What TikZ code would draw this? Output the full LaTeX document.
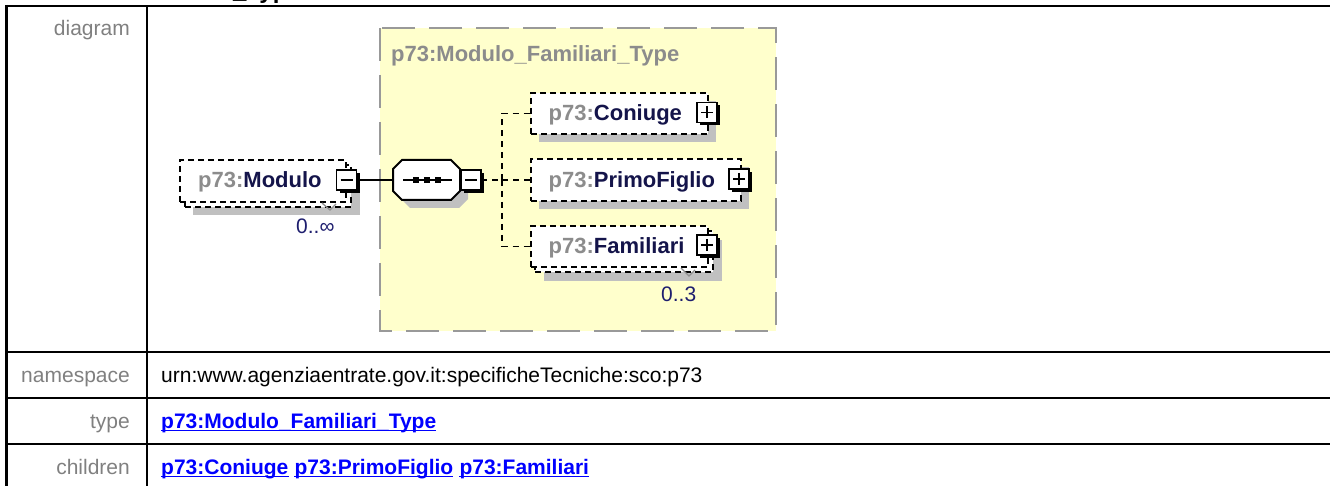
\documentclass[tikz,border=0pt]{standalone}
\usepackage{fontspec}
\setmainfont{Liberation Sans}
\usetikzlibrary{calc}
\definecolor{lbl}{HTML}{808080}
\definecolor{pfx}{HTML}{8C8C8C}
\definecolor{nm}{HTML}{14144A}
\definecolor{card}{HTML}{1E1E6E}
\definecolor{typefill}{HTML}{FFFFCC}
\definecolor{typeline}{HTML}{999999}
\definecolor{shadowc}{HTML}{C0C0C0}
\definecolor{notchc}{HTML}{909090}
\definecolor{linkc}{HTML}{0000FF}
\tikzset{
  tbl/.style={line width=2.5pt, black},
  lbltxt/.style={anchor=base east, inner sep=0, text=lbl, font=\fontsize{21}{25}\selectfont},
  valtxt/.style={anchor=base west, inner sep=0, text=black, font=\fontsize{21}{25}\selectfont},
  linktxt/.style={anchor=base west, inner sep=0, text=linkc, font=\fontsize{21}{25}\selectfont\bfseries},
  eltxt/.style={anchor=base west, inner sep=0, text=nm, font=\fontsize{22}{26}\selectfont\bfseries},
  cardtxt/.style={anchor=base west, inner sep=0, text=card, font=\fontsize{21}{25}\selectfont},
  elbox/.style={draw=black, fill=white, line width=1.8pt, dash pattern=on 6pt off 4pt, inner sep=0, outer sep=0, anchor=north west},
  shadowbox/.style={fill=shadowc},
  conn/.style={line width=1.8pt},
  dconn/.style={line width=1.8pt, dash pattern=on 6pt off 5pt},
  typebox/.style={fill=typefill, draw=typeline, line width=2.5pt, dash pattern=on 33pt off 14pt},
  notch/.style={draw=notchc, line width=1.3pt},
}
\newcommand\pmbox[4]{%
  \fill[black] (#2-10+3,#3-10+3) rectangle (#2+10+3,#3+10+3);
  \node[draw=black, fill=white, line width=1.2pt, minimum size=20pt, inner sep=0, outer sep=0] (#1) at (#2,#3) {};
  \draw[line width=1.6pt] (#2-6,#3) -- (#2+6,#3);
  \ifnum#4=1 \draw[line width=1.6pt] (#2,#3-6) -- (#2,#3+6);\fi
}
\newcommand\linknode[3]{%
  \node[linktxt] (#1) at #2 {#3};
  \draw[linkc, line width=1.6pt] ([yshift=-2.6pt]#1.base west) -- ([yshift=-2.6pt]#1.base east);
}
\begin{document}
\begin{tikzpicture}[x=1pt,y=-1pt]
\useasboundingbox (0,0) rectangle (1330,486);
% clipped heading fragment
\node[anchor=base west, inner sep=0, font=\fontsize{24}{28}\selectfont\bfseries] (hd) at (233,-1.5) {\_Type};
% table
\draw[tbl] (6.5,6.2) -- (1340,6.2);
\draw[tbl] (6.5,5) -- (6.5,490);
\draw[tbl] (147,6) -- (147,490);
\draw[tbl] (6.5,352) -- (1340,352);
\draw[tbl] (6.5,398) -- (1340,398);
\draw[tbl] (6.5,444) -- (1340,444);
\node[lbltxt] (ldia) at (130,35.5) {diagram};
\node[lbltxt] (lns) at (130,382) {namespace};
\node[lbltxt] (ltype) at (130,428) {type};
\node[lbltxt] (lch) at (130,474) {children};
\node[valtxt] (vns) at (161,382) {urn:www.agenziaentrate.gov.it:specificheTecniche:sco:p73};
\linknode{vtype}{(161,428)}{p73:Modulo\_Familiari\_Type}
\linknode{c1}{(161,474)}{p73:Coniuge}
\linknode{c2}{($(c1.base east)+(5.84,0)$)}{p73:PrimoFiglio}
\linknode{c3}{($(c2.base east)+(5.84,0)$)}{p73:Familiari}
% type box
\path[typebox] (380,28) rectangle (776,331);
\node[anchor=base west, inner sep=0, text=pfx, font=\fontsize{22}{26}\selectfont\bfseries] (title) at (391,62) {p73:Modulo\_Familiari\_Type};
% Modulo element (repeated)
\fill[shadowc] (193,173) rectangle (360,215);
\node[elbox, minimum width=166pt, minimum height=42pt] (modback) at (185,165) {};
\node[elbox, minimum width=166pt, minimum height=42pt] (mod) at (180,160) {};
\draw[notch] (322,203) -- (330,210) -- (336,204);
\node[eltxt] (modt) at (198,187.5) {\textcolor{pfx}{p73:}Modulo};
\node[cardtxt] (modc) at (296,233.5) {0..∞};
\pmbox{modm}{346.5}{180}{0}
% sequence compositor
\begin{scope}[shift={(8,8)}]
\fill[shadowc] (402,160) -- (451,160) -- (460,169) -- (460,191) -- (451,200) -- (402,200) -- (393,191) -- (393,169) -- cycle;
\end{scope}
\node[minimum width=67pt, minimum height=40pt, inner sep=0, outer sep=0] (seq) at (426.5,180) {};
\draw[fill=white, line width=2pt] (402,160) -- (451,160) -- (460,169) -- (460,191) -- (451,200) -- (402,200) -- (393,191) -- (393,169) -- cycle;
\draw[line width=1.8pt] (403,180) -- (452,180);
\foreach \dx in {416,427,438} \fill[black] (\dx-2.8,177.2) rectangle (\dx+2.8,182.8);
\pmbox{seqm}{471}{180}{0}
\draw[conn] (modm.east) -- (seq.west);
% children
\fill[shadowc] (539,101) rectangle (716,142);
\node[elbox, minimum width=177pt, minimum height=41pt] (con) at (531,93) {};
\node[eltxt] (cont) at (548.5,121) {\textcolor{pfx}{p73:}Coniuge};
\pmbox{conp}{707}{112.5}{1}
\fill[shadowc] (539,167) rectangle (749,209);
\node[elbox, minimum width=210pt, minimum height=42pt] (pf) at (531,159) {};
\node[eltxt] (pft) at (548.5,188) {\textcolor{pfx}{p73:}PrimoFiglio};
\pmbox{pfp}{739}{179}{1}
\fill[shadowc] (544,240) rectangle (722,281);
\node[elbox, minimum width=178pt, minimum height=41pt] (famback) at (535,231) {};
\node[elbox, minimum width=177pt, minimum height=41pt] (fam) at (531,226) {};
\draw[notch] (681,268) -- (689,276) -- (695,270);
\node[eltxt] (famt) at (548.5,253.5) {\textcolor{pfx}{p73:}Familiari};
\node[cardtxt] (famc) at (661,301.5) {0..3};
\pmbox{famp}{707}{245}{1}
% connectors
\coordinate (j) at (502,180);
\draw[dconn] (seqm.east) -- (j);
\draw[dconn] (j) |- (con.west);
\draw[dconn] (j) -- (pf.west);
\draw[dconn] (j) |- (fam.west);
\end{tikzpicture}
\end{document}
